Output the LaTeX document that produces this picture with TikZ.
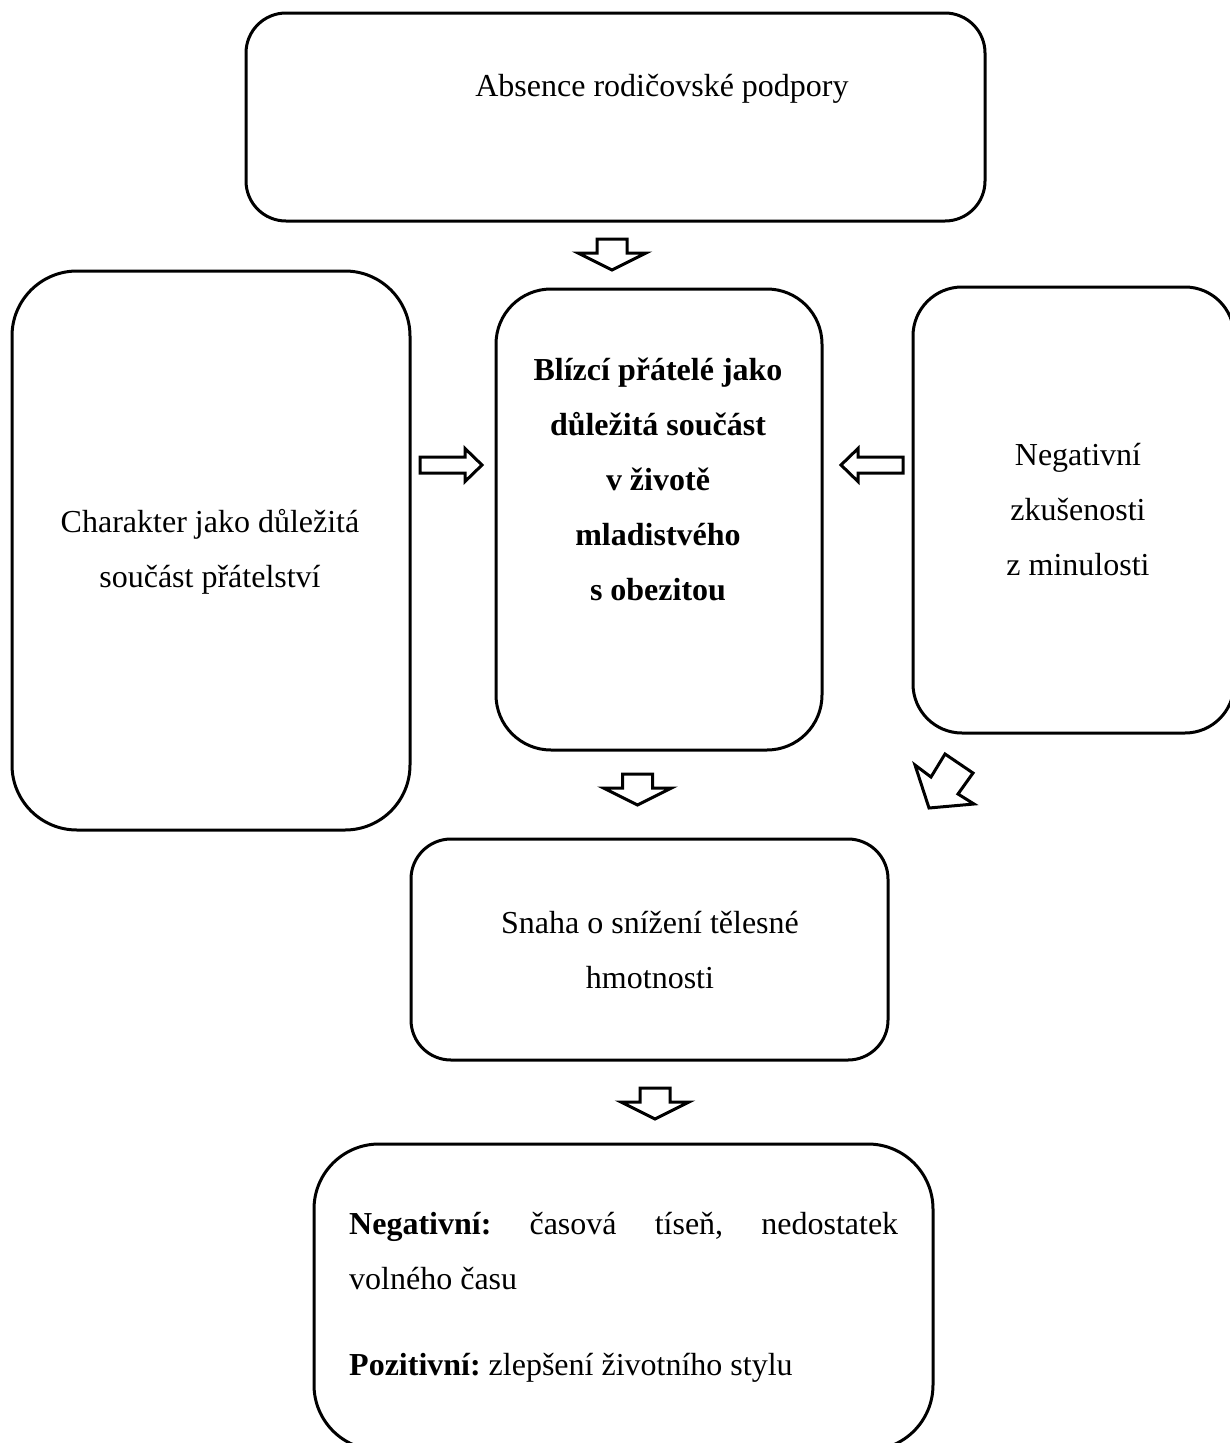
\documentclass[tikz,border=0pt]{standalone}
\usepackage{fontspec}
\setmainfont{Liberation Serif}
\frenchspacing
\begin{document}
\begin{tikzpicture}[x=1pt,y=-1pt,
  box/.style={draw=black, line width=3pt, rounded corners=#1},
  box/.default=40pt,
  lbl/.style={inner sep=0pt, font=\fontsize{32}{55}\selectfont, align=center},
  blk/.style={draw=black, line width=3pt, fill=white, line join=miter},
  downarrow/.pic={\draw[blk] (-15,0)--(15,0)--(15,14)--(34,14)--(0,31)--(-34,14)--(-15,14)--cycle;},
  rightarrow/.pic={\draw[blk] (0,-8)--(45,-8)--(45,-16.5)--(62,0)--(45,16.5)--(45,8)--(0,8)--cycle;}
]
\useasboundingbox (0,0) rectangle (1230,1443);
\clip (0,0) rectangle (1230,1443);
% boxes
\draw[box=40pt] (246,13) rectangle (985,221);
\node[inner sep=0pt] (top) at (615.5,117) {};
\draw[box=65pt] (12,271) rectangle (410,830);
\node[inner sep=0pt] (left) at (211,550) {};
\draw[box=55pt] (496,289) rectangle (822,750);
\node[inner sep=0pt] (center) at (659,519) {};
\draw[box=49pt] (913,287) rectangle (1234,733);
\node[inner sep=0pt] (right) at (1073,510) {};
\draw[box=40pt] (411,839) rectangle (888,1060);
\node[inner sep=0pt] (snaha) at (649,950) {};
\draw[box=65pt] (314,1144) rectangle (933,1450);
\node[inner sep=0pt] (result) at (623,1297) {};
% texts
\node[lbl] (ttop) at (662,89) {Absence rodičovské podpory};
\node[lbl] (tleft) at (210,552) {Charakter jako důležitá\\součást přátelství};
\node[lbl, font=\fontsize{32}{55}\selectfont\bfseries] (tcenter) at (658,479) {Blízcí přátelé jako\\důležitá součást\\v životě\\mladistvého\\s obezitou};
\node[lbl] (tright) at (1078,510) {Negativní\\zkušenosti\\z minulosti};
\node[lbl] (tsnaha) at (650,950) {Snaha o snížení tělesné\\hmotnosti};
\node[lbl, anchor=north west, text width=549pt, align=justify] (tresult) at (349,1212) {\hyphenpenalty=10000\textbf{Negativní:} časová tíseň, nedostatek volného času\par\vspace{31pt}\textbf{Pozitivní:} zlepšení životního stylu};
% block arrows
\pic at (612,239) {downarrow};
\pic at (637.5,774) {downarrow};
\pic at (655,1088) {downarrow};
\pic at (420,465) {rightarrow};
\pic[xscale=-1] at (903,465) {rightarrow};
\draw[blk] (945,754)--(973,773)--(958,794)--(974,804)--(929,808)--(915,765)--(931,777)--cycle;
\end{tikzpicture}
\end{document}
